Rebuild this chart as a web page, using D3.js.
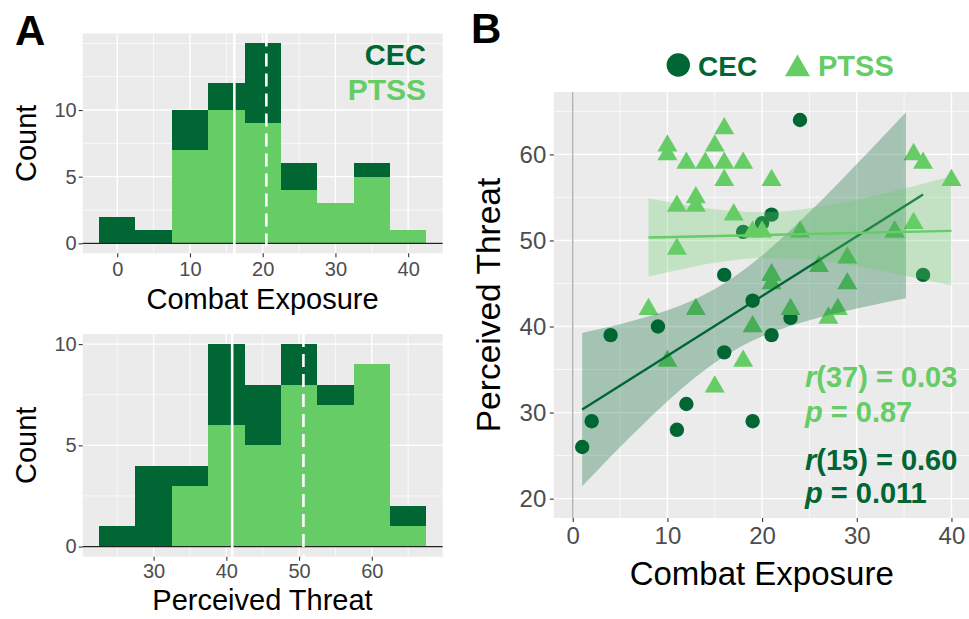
<!DOCTYPE html>
<html>
<head>
<meta charset="utf-8">
<script src="https://cdn.jsdelivr.net/npm/d3@7"></script>
<style>
body { margin: 0; background: #fff; }
svg text { font-family: "Liberation Sans", Arial, Helvetica, sans-serif; }
</style>
</head>
<body>
<svg id="chart" width="969" height="619"></svg>
<script>
"use strict"

// ---- panel A, histograms (bin centres, stacked counts) ----
const binWidth = 5;
const ceBins = [0, 5, 10, 15, 20, 25, 30, 35, 40];
const ceCEC = [2, 1, 3, 2, 6, 2, 0, 1, 0];
const cePTSS = [0, 0, 7, 10, 9, 4, 3, 5, 1];
const ceMeans = [16.1, 20.5];          // solid = CEC, dashed = PTSS

const ptBins = [25, 30, 35, 40, 45, 50, 55, 60, 65];
const ptCEC = [1, 4, 1, 4, 3, 2, 1, 0, 1];
const ptPTSS = [0, 0, 3, 6, 5, 8, 7, 9, 1];
const ptMeans = [40.8, 50.6];

const ceTicks = [0, 10, 20, 30, 40];
const ceMinor = [5, 15, 25, 35];
const ptTicks = [30, 40, 50, 60];
const ptMinor = [25, 35, 45, 55, 65];
const countTicks = [0, 5, 10];
const countMinorTop = [2.5, 7.5, 12.5, 15];
const countMinorBottom = [2.5, 7.5];

// ---- panel B, scatter ----
const cecX = [1, 2, 4, 9, 11, 12, 16, 16, 18, 19, 19, 20, 21, 21, 23, 24, 37];
const cecY = [26, 29, 39, 40, 28, 31, 37, 46, 51, 43, 29, 52, 53, 39, 41, 64, 46];

const ptssX = [8, 10, 10, 10, 11, 11, 12, 13, 13, 13, 14, 15, 15, 16, 16, 16, 17, 18, 18, 19,
    19, 20, 21, 21, 21, 21, 23, 24, 26, 27, 28, 29, 29, 34, 34, 36, 36, 37, 40];
const ptssY = [42, 36, 60, 61, 49, 54, 59, 42, 54, 55, 59, 33, 61, 57, 59, 63, 53, 36, 59, 40,
    51, 51, 45, 46, 46, 57, 42, 51, 47, 41, 42, 45, 48, 51, 51, 52, 60, 59, 57];

const cecFitX = [1, 37];
const cecFitY = [30.35, 55.33];
const cecBandX = [1, 2.5, 5, 7.5, 10, 12.5, 15, 17.5, 20, 22.5, 25, 27.5, 30, 32.5, 35.2];
const cecBandLo = [21.45, 23.16, 25.99, 28.71, 31.32, 33.70, 35.79, 37.50, 38.83, 39.88, 40.72, 41.45, 42.09, 42.68, 43.27];
const cecBandHi = [39.25, 39.62, 40.27, 41.01, 41.88, 42.96, 44.35, 46.12, 48.25, 50.68, 53.30, 56.05, 58.87, 61.76, 64.89];

const ptssFitX = [8, 40];
const ptssFitY = [50.35, 51.11];
const ptssBandX = [8, 12, 16, 20, 24, 28, 32, 36, 40];
const ptssBandLo = [45.80, 46.78, 47.57, 47.97, 47.88, 47.36, 46.61, 45.71, 44.76];
const ptssBandHi = [54.90, 54.10, 53.51, 53.29, 53.58, 54.28, 55.23, 56.31, 57.46];

const scatterXTicks = [0, 10, 20, 30, 40];
const scatterXMinor = [5, 15, 25, 35];
const scatterYTicks = [20, 30, 40, 50, 60];
const scatterYMinor = [25, 35, 45, 55, 65];

const DARK = "#006633", LIGHT = "#66cc66", PANEL = "#ebebeb", TICKTXT = "#4d4d4d";

const svg = d3.select("#chart");
svg.append("rect").attr("width", 969).attr("height", 619).attr("fill", "#fff");

function grid(g, x, y, xMajor, xMinor, yMajor, yMinor) {
    const [x0, x1] = x.range(), [y0, y1] = y.range();
    g.append("rect")
        .attr("x", x0).attr("y", y1)
        .attr("width", x1 - x0).attr("height", y0 - y1)
        .attr("fill", PANEL);
    const hl = (vals, w) => g.append("g").selectAll("line").data(vals).join("line")
        .attr("x1", x0).attr("x2", x1)
        .attr("y1", d => y(d)).attr("y2", d => y(d))
        .attr("stroke", "#fff").attr("stroke-width", w);
    const vl = (vals, w) => g.append("g").selectAll("line").data(vals).join("line")
        .attr("y1", y0).attr("y2", y1)
        .attr("x1", d => x(d)).attr("x2", d => x(d))
        .attr("stroke", "#fff").attr("stroke-width", w);
    hl(yMinor, 0.7); vl(xMinor, 0.7);
    hl(yMajor, 1.4); vl(xMajor, 1.4);
}

function axes(g, x, y, xTicks, yTicks, size, padX, padY) {
    const style = s => {
        s.select(".domain").remove();
        s.selectAll("line").attr("stroke", "#333").attr("stroke-width", 1.1);
        s.selectAll("text").attr("fill", TICKTXT).style("font-size", size + "px");
    };
    g.append("g")
        .attr("transform", "translate(0," + y.range()[0] + ")")
        .call(d3.axisBottom(x).tickValues(xTicks).tickSize(4).tickPadding(padX))
        .call(style);
    g.append("g")
        .attr("transform", "translate(" + x.range()[0] + ",0)")
        .call(d3.axisLeft(y).tickValues(yTicks).tickSize(4).tickPadding(padY))
        .call(style);
}

function title(g, txt, x, y, size, rotate) {
    g.append("text")
        .attr("transform", "translate(" + x + "," + y + ")" + (rotate ? " rotate(-90)" : ""))
        .attr("text-anchor", "middle")
        .style("font-size", size + "px")
        .attr("fill", "#000")
        .text(txt);
}

function histogram(cfg) {
    const g = svg.append("g");
    const x = d3.scaleLinear().domain(cfg.xDomain).range([82.7, 442.7]);
    const y = d3.scaleLinear().domain(cfg.yDomain).range(cfg.yRange);
    grid(g, x, y, cfg.xTicks, cfg.xMinor, cfg.yTicks, cfg.yMinor);

    const rows = cfg.bins.map((b, i) => ({ bin: b, ptss: cfg.ptss[i], cec: cfg.cec[i] }));
    const stacked = d3.stack().keys(["ptss", "cec"])(rows);
    g.append("g").selectAll("g").data(stacked).join("g")
        .attr("fill", d => d.key === "cec" ? DARK : LIGHT)
        .selectAll("rect").data(d => d.filter(s => s[1] > s[0])).join("rect")
        .attr("shape-rendering", "crispEdges")
        .attr("x", d => x(d.data.bin - binWidth / 2))
        .attr("width", x(binWidth) - x(0))
        .attr("y", d => y(d[1]))
        .attr("height", d => y(d[0]) - y(d[1]));

    const [x0, x1] = x.range(), [y0, y1] = y.range();
    g.append("line")
        .attr("x1", x0).attr("x2", x1)
        .attr("y1", y(0)).attr("y2", y(0))
        .attr("stroke", "#222").attr("stroke-width", 1.3);

    g.selectAll(".mean").data(cfg.means).join("line")
        .attr("class", "mean")
        .attr("x1", d => x(d)).attr("x2", d => x(d))
        .attr("y1", y1).attr("y2", y0)
        .attr("stroke", "#fff").attr("stroke-width", 2.6)
        .attr("stroke-dasharray", (d, i) => i ? "13,7" : null);

    axes(g, x, y, cfg.xTicks, cfg.yTicks, 20, cfg.padX, 2);
    title(g, cfg.xTitle, 262.5, cfg.xTitleY, 29, false);
    title(g, "Count", 36, (y0 + y1) / 2, 29, true);
    return g;
}

const topHist = histogram({
    xDomain: [-4.75, 44.75], yDomain: [-0.75, 15.75], yRange: [253.3, 33.4],
    bins: ceBins, cec: ceCEC, ptss: cePTSS, means: ceMeans,
    xTicks: ceTicks, xMinor: ceMinor, yTicks: countTicks, yMinor: countMinorTop,
    padX: 4.5, xTitle: "Combat Exposure", xTitleY: 309
});

topHist.append("text").attr("x", 426).attr("y", 65).attr("text-anchor", "end")
    .style("font-size", "29px").style("font-weight", "bold").attr("fill", DARK).text("CEC");
topHist.append("text").attr("x", 426).attr("y", 100).attr("text-anchor", "end")
    .style("font-size", "30px").style("font-weight", "bold").attr("fill", LIGHT).text("PTSS");

histogram({
    xDomain: [20.25, 69.75], yDomain: [-0.5, 10.5], yRange: [556.7, 334],
    bins: ptBins, cec: ptCEC, ptss: ptPTSS, means: ptMeans,
    xTicks: ptTicks, xMinor: ptMinor, yTicks: countTicks, yMinor: countMinorBottom,
    padX: 3.5, xTitle: "Perceived Threat", xTitleY: 610
});

// ---- scatter ----
const sg = svg.append("g");
const sx = d3.scaleLinear().domain([-2, 42]).range([553.8, 970.4]);
const sy = d3.scaleLinear().domain([17.75, 67.25]).range([518, 92]);
grid(sg, sx, sy, scatterXTicks, scatterXMinor, scatterYTicks, scatterYMinor);

svg.append("clipPath").attr("id", "clip")
    .append("rect").attr("x", 553.8).attr("y", 92).attr("width", 416.6).attr("height", 426);
const plot = sg.append("g").attr("clip-path", "url(#clip)");

plot.append("line")
    .attr("x1", sx(0)).attr("x2", sx(0))
    .attr("y1", sy.range()[0]).attr("y2", sy.range()[1])
    .attr("stroke", "#a6a6a6").attr("stroke-width", 1.2);

plot.append("g").selectAll("circle").data(cecX).join("circle")
    .attr("cx", d => sx(d))
    .attr("cy", (d, i) => sy(cecY[i]))
    .attr("r", 7.2)
    .attr("fill", DARK);

const tri = d3.symbol().type(d3.symbolTriangle).size(173);
plot.append("g").selectAll("path").data(ptssX).join("path")
    .attr("d", tri)
    .attr("transform", (d, i) => "translate(" + sx(d) + "," + sy(ptssY[i]) + ")")
    .attr("fill", LIGHT);

function smooth(bx, lo, hi, fx, fy, color) {
    const area = d3.area()
        .x(d => sx(d))
        .y0((d, i) => sy(lo[i]))
        .y1((d, i) => sy(hi[i]))
        .curve(d3.curveMonotoneX);
    plot.append("path").datum(bx)
        .attr("d", area)
        .attr("fill", color).attr("fill-opacity", 0.3);
    const line = d3.line().x(d => sx(d)).y((d, i) => sy(fy[i]));
    plot.append("path").datum(fx)
        .attr("d", line)
        .attr("fill", "none").attr("stroke", color).attr("stroke-width", 2.4);
}
smooth(cecBandX, cecBandLo, cecBandHi, cecFitX, cecFitY, DARK);
smooth(ptssBandX, ptssBandLo, ptssBandHi, ptssFitX, ptssFitY, LIGHT);

axes(sg, sx, sy, scatterXTicks, scatterYTicks, 24, 4.7, 3.5);
title(sg, "Combat Exposure", 761.7, 585, 33, false);
title(sg, "Perceived Threat", 500, 305, 33.5, true);

// stats
const stats = [
    { v: "r", rest: "(37) = 0.03", y: 387, c: LIGHT },
    { v: "p", rest: " = 0.87", y: 422, c: LIGHT },
    { v: "r", rest: "(15) = 0.60", y: 470, c: DARK },
    { v: "p", rest: " = 0.011", y: 503, c: DARK }
];
stats.forEach(s => {
    const t = sg.append("text").attr("x", 805).attr("y", s.y)
        .style("font-size", "29px").style("font-weight", "bold").attr("fill", s.c);
    t.append("tspan").style("font-style", "italic").text(s.v);
    t.append("tspan").text(s.rest);
});

// legend B
const lg = svg.append("g");
lg.append("circle").attr("cx", 678.3).attr("cy", 65).attr("r", 11.7).attr("fill", DARK);
lg.append("text").attr("x", 698).attr("y", 76)
    .style("font-size", "28px").style("font-weight", "bold").attr("fill", DARK).text("CEC");
lg.append("path").attr("d", d3.symbol().type(d3.symbolTriangle).size(270)())
    .attr("transform", "translate(797.5,69)").attr("fill", LIGHT);
lg.append("text").attr("x", 818).attr("y", 76)
    .style("font-size", "29px").style("font-weight", "bold").attr("fill", LIGHT).text("PTSS");

// panel letters
svg.append("text").attr("x", 15).attr("y", 45)
    .style("font-size", "42px").style("font-weight", "bold").text("A");
svg.append("text").attr("x", 471).attr("y", 43)
    .style("font-size", "42px").style("font-weight", "bold").text("B");
</script>
</body>
</html>
